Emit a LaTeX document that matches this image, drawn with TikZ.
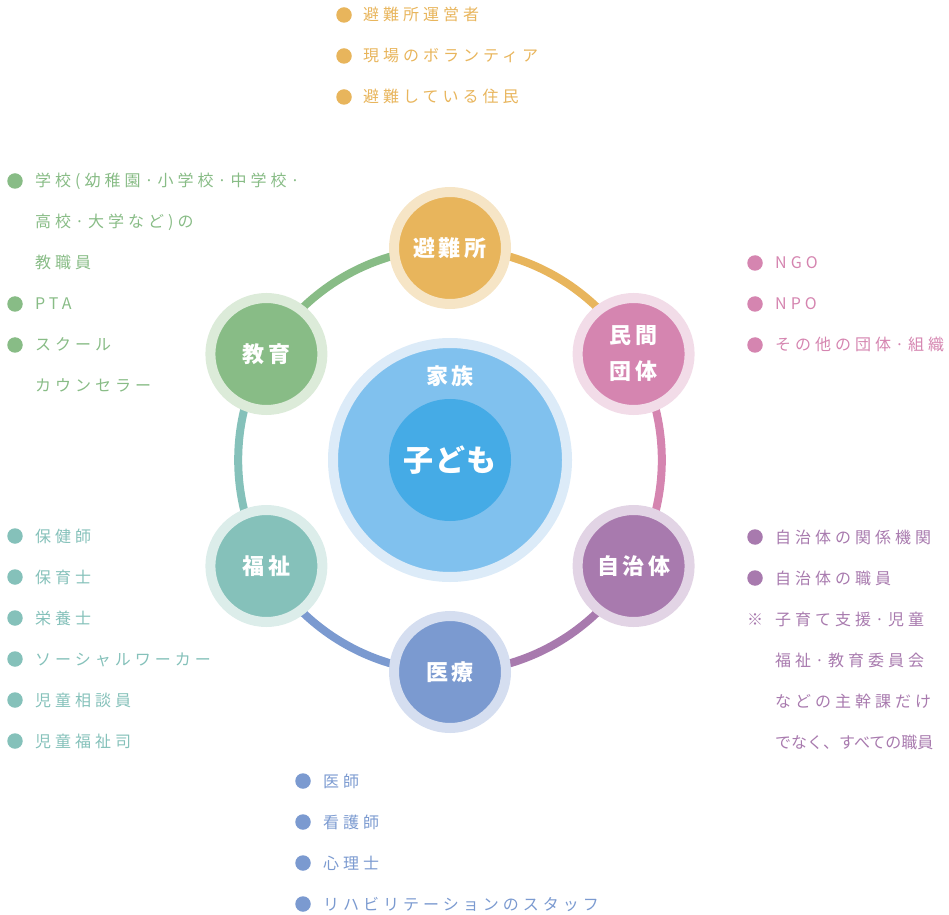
\documentclass[tikz,border=0pt]{standalone}
\usepackage{fontspec}
\newfontfamily\jp{Noto Sans CJK JP}
\usetikzlibrary{backgrounds}
\definecolor{hinanc}{HTML}{E8B55C}
\definecolor{hinanh}{HTML}{F6E5C6}
\definecolor{minkanc}{HTML}{D585B0}
\definecolor{minkanh}{HTML}{F2DCE8}
\definecolor{jichic}{HTML}{A87AAE}
\definecolor{jichih}{HTML}{E2D4E5}
\definecolor{iryoc}{HTML}{7B9AD0}
\definecolor{iryoh}{HTML}{D5DEF0}
\definecolor{fukushic}{HTML}{85C1BA}
\definecolor{fukushih}{HTML}{DCEDEA}
\definecolor{kyoikuc}{HTML}{88BC86}
\definecolor{kyoikuh}{HTML}{DCEBD9}
\definecolor{kazokuh}{HTML}{DCEBF8}
\definecolor{kazokuc}{HTML}{80C1EE}
\definecolor{kodomoc}{HTML}{45ABE6}
\tikzset{
  hub/.style={circle,minimum size=112pt,line width=10pt,inner sep=0pt,align=center,text=white,
    font=\jp\bfseries\fontsize{22}{36}\selectfont\addfontfeature{LetterSpace=16}},
  link/.style={line width=8pt,bend left=30,looseness=0.91},
  item/.style={anchor=west,inner sep=0pt,text height=13pt,text depth=1pt,
    font=\jp\fontsize{16}{20}\selectfont\addfontfeature{LetterSpace=25}},
  listdot/.style={circle,inner sep=0pt,minimum size=15.5pt}
}
\begin{document}
\begin{tikzpicture}[x=1pt,y=1pt]
  \useasboundingbox (0,0) rectangle (949,914);
  % center
  \node[circle,minimum size=234pt,line width=10pt,draw=kazokuh,fill=kazokuc] (kazoku) at (450,454) {};
  \node[circle,minimum size=122pt,fill=kodomoc,text=white,inner sep=0pt,
    font=\jp\bfseries\fontsize{30}{36}\selectfont\addfontfeature{LetterSpace=5}] (kodomo) at (450,454) {子ども};
  \node[text=white,font=\jp\bfseries\fontsize{22}{26}\selectfont\addfontfeature{LetterSpace=15}]
    (kazokulabel) at (450,538) {家族};
  % ring
  \node[hub,draw=hinanh,fill=hinanc] (hinan) at (450,666) {避難所};
  \node[hub,draw=minkanh,fill=minkanc] (minkan) at (633.6,560) {民間\\団体};
  \node[hub,draw=jichih,fill=jichic] (jichi) at (633.6,348) {自治体};
  \node[hub,draw=iryoh,fill=iryoc] (iryo) at (450,242) {医療};
  \node[hub,draw=fukushih,fill=fukushic] (fukushi) at (266.4,348) {福祉};
  \node[hub,draw=kyoikuh,fill=kyoikuc] (kyoiku) at (266.4,560) {教育};
  \begin{scope}[on background layer]
    \draw[link,hinanc] (hinan.center) to (minkan.center);
    \draw[link,minkanc] (minkan.center) to (jichi.center);
    \draw[link,jichic] (jichi.center) to (iryo.center);
    \draw[link,iryoc] (iryo.center) to (fukushi.center);
    \draw[link,fukushic] (fukushi.center) to (kyoiku.center);
    \draw[link,kyoikuc] (kyoiku.center) to (hinan.center);
  \end{scope}
  % lists
  \foreach \t [count=\i from 0] in {避難所運営者,現場のボランティア,避難している住民} {
    \node[listdot,fill=hinanc] (hinandot\i) at (344,899-41*\i) {};
    \node[item,text=hinanc] (hinanitem\i) at (363,899-41*\i) {\t};
  }
  \foreach \t [count=\i from 0] in {NGO,NPO,その他の団体·組織} {
    \node[listdot,fill=minkanc] (minkandot\i) at (755,651-41*\i) {};
    \node[item,text=minkanc] (minkanitem\i) at (775,651-41*\i) {\t};
  }
  \foreach \t [count=\i from 0] in {保健師,保育士,栄養士,ソーシャルワーカー,児童相談員,児童福祉司} {
    \node[listdot,fill=fukushic] (fukushidot\i) at (15,378-41*\i) {};
    \node[item,text=fukushic] (fukushiitem\i) at (35,378-41*\i) {\t};
  }
  \foreach \t [count=\i from 0] in {医師,看護師,心理士,リハビリテーションのスタッフ} {
    \node[listdot,fill=iryoc] (iryodot\i) at (303,133-41*\i) {};
    \node[item,text=iryoc] (iryoitem\i) at (323,133-41*\i) {\t};
  }
  \foreach \t [count=\i from 0] in {学校(幼稚園·小学校·中学校·,高校·大学など)の,教職員,PTA,スクール,カウンセラー}
    \node[item,text=kyoikuc] (kyoikuitem\i) at (35,733-41*\i) {\t};
  \foreach \i in {0,3,4}
    \node[listdot,fill=kyoikuc] (kyoikudot\i) at (15,733-41*\i) {};
  \foreach \t [count=\i from 0] in {自治体の関係機関,自治体の職員,子育て支援·児童,福祉·教育委員会,などの主幹課だけ}
    \node[item,text=jichic] (jichiitem\i) at (775,377-41*\i) {\t};
  \node[item,text=jichic,font=\jp\fontsize{16}{20}\selectfont] (jichiitem5) at (775,172) {でなく、すべての職員};
  \foreach \i in {0,1}
    \node[listdot,fill=jichic] (jichidot\i) at (755,377-41*\i) {};
  \node[item,text=jichic,anchor=center] (jichinote) at (755,295) {※};
\end{tikzpicture}
\end{document}
